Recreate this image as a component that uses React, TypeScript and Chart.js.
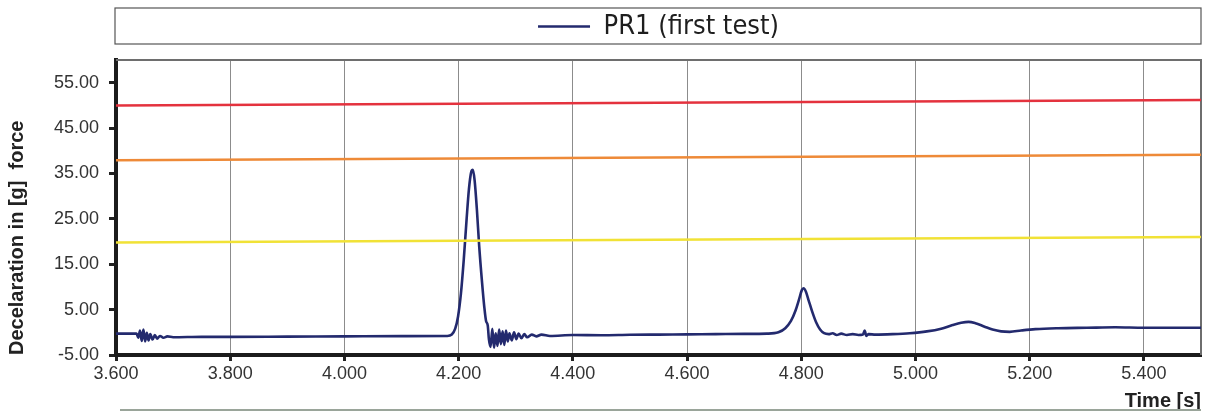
import React, { useEffect, useRef } from "react";
import { Chart, registerables } from "chart.js";

Chart.register(...registerables);

const seriesLabel = "PR1 (first test)";

const times = [
  3.600, 3.636, 3.639, 3.642, 3.645, 3.648, 3.651, 3.654, 3.657, 3.660, 3.664, 3.668, 3.672, 3.677, 3.683, 3.690,
  3.700, 3.750, 3.800, 3.900, 4.000, 4.100, 4.180, 4.188, 4.194, 4.199, 4.204, 4.209, 4.214, 4.218, 4.222, 4.225,
  4.228, 4.232, 4.236, 4.241, 4.245, 4.248, 4.251, 4.253, 4.256, 4.259, 4.262, 4.265, 4.268, 4.271, 4.274, 4.277,
  4.280, 4.283, 4.286, 4.289, 4.293, 4.297, 4.301, 4.305, 4.310, 4.315, 4.320, 4.328, 4.336, 4.345, 4.360, 4.400,
  4.450, 4.500, 4.550, 4.600, 4.650, 4.700, 4.740, 4.760, 4.772, 4.782, 4.790, 4.796, 4.801, 4.804, 4.808, 4.813,
  4.819, 4.826, 4.833, 4.840, 4.848, 4.855, 4.862, 4.870, 4.880, 4.890, 4.900, 4.908, 4.911, 4.914, 4.918, 4.930,
  4.960, 4.990, 5.020, 5.045, 5.065, 5.080, 5.093, 5.105, 5.120, 5.135, 5.150, 5.165, 5.185, 5.210, 5.250, 5.300,
  5.350, 5.400, 5.450, 5.500,
];

const decel = [
  -0.3, -0.3, -1.2, 0.4, -1.9, 0.6, -2.0, -0.1, -1.8, -0.4, -1.6, -0.6, -1.4, -0.8, -1.2, -0.9,
  -1.1, -1.0, -1.0, -0.95, -0.9, -0.85, -0.8, -0.5, 0.8, 3.5, 8.5, 16.0, 25.0, 31.5, 35.3, 35.8,
  33.5, 27.0, 19.0, 11.0, 5.5, 2.5, 1.5, -1.5, -3.2, 0.8, -3.4, -0.2, -3.0, 0.6, -2.6, 0.2,
  -2.8, 0.4, -2.0, -0.2, -1.8, 0.0, -1.5, -0.3, -1.3, -0.4, -1.1, -0.5, -0.9, -0.5, -0.8, -0.6,
  -0.65, -0.55, -0.5, -0.45, -0.4, -0.35, -0.3, 0.0, 0.9, 2.5, 4.8, 7.2, 9.3, 9.7, 9.0, 7.0,
  4.6, 2.2, 0.6, -0.2, -0.4, -0.2, -0.6, -0.3, -0.6, -0.4, -0.6, -0.5, 0.4, -0.8, -0.4, -0.5,
  -0.4, -0.2, 0.2, 0.8, 1.6, 2.1, 2.3, 2.0, 1.3, 0.6, 0.2, 0.1, 0.4, 0.7, 0.9, 1.0,
  1.1, 1.0, 1.0, 1.0,
];

const refTimes = [3.6, 5.5];
const redLimit = [50.0, 51.2];
const orangeLimit = [37.9, 39.1];
const yellowLimit = [19.8, 21.0];

const xTicks = [3.6, 3.8, 4.0, 4.2, 4.4, 4.6, 4.8, 5.0, 5.2, 5.4];
const yTicks = [-5, 5, 15, 25, 35, 45, 55];

const framePlugin = {
  id: "frame",
  beforeDatasetsDraw(chart: any) {
    const { ctx, chartArea: a } = chart;
    ctx.save();
    ctx.strokeStyle = "#6e6e6e";
    ctx.lineWidth = 2;
    ctx.beginPath();
    ctx.moveTo(a.left, a.top);
    ctx.lineTo(a.right, a.top);
    ctx.lineTo(a.right, a.bottom);
    ctx.stroke();
    ctx.restore();
  },
  afterDraw(chart: any) {
    const { ctx, chartArea: a, legend } = chart;
    ctx.save();
    ctx.strokeStyle = "#555";
    ctx.lineWidth = 1.2;
    const top = legend.top - 1;
    const h = legend.bottom - legend.top - 5;
    ctx.strokeRect(a.left - 1, top, a.right - a.left + 1, h);
    ctx.strokeStyle = "#9aa59a";
    ctx.lineWidth = 2;
    ctx.beginPath();
    ctx.moveTo(a.left + 4, chart.height - 3);
    ctx.lineTo(a.right, chart.height - 3);
    ctx.stroke();
    ctx.restore();
  },
};

export default function App() {
  const ref = useRef<HTMLCanvasElement | null>(null);
  useEffect(() => {
    document.body.style.margin = "0";
    document.body.style.background = "#ffffff";
    if (!ref.current) return;
    const mk = (xs: number[], ys: number[]) => xs.map((x, i) => ({ x, y: ys[i] }));
    const refLine = (label: string, ys: number[], color: string) => ({
      label,
      data: mk(refTimes, ys),
      xAxisID: "x",
      yAxisID: "y",
      borderColor: color,
      backgroundColor: color,
      borderWidth: 2.5,
      pointRadius: 0,
    });
    const chart = new Chart(ref.current, {
      type: "line",
      data: {
        datasets: [
          refLine("red", redLimit, "#e4323e"),
          refLine("orange", orangeLimit, "#ee8a38"),
          refLine("yellow", yellowLimit, "#f1e236"),
          {
            label: seriesLabel,
            data: mk(times, decel),
            xAxisID: "x",
            yAxisID: "y",
            borderColor: "#232a6e",
            backgroundColor: "#232a6e",
            borderWidth: 2.6,
            pointRadius: 0,
            cubicInterpolationMode: "monotone",
          },
        ],
      },
      plugins: [framePlugin],
      options: {
        animation: false,
        responsive: true,
        maintainAspectRatio: false,
        layout: { padding: { top: 9, right: 10, bottom: 0, left: 0 } },
        plugins: {
          tooltip: { enabled: false },
          legend: {
            position: "top",
            fullSize: false,
            labels: {
              filter: (item: any) => item.text === seriesLabel,
              usePointStyle: true,
              pointStyle: "line",
              pointStyleWidth: 52,
              padding: 4,
              color: "#1e1e1e",
              font: { family: "'DejaVu Sans Condensed', 'DejaVu Sans', sans-serif", size: 27 },
            },
          },
        },
        scales: {
          x: {
            type: "linear",
            min: 3.6,
            max: 5.5,
            afterBuildTicks: (s: any) => { s.ticks = xTicks.map((v) => ({ value: v })); },
            afterFit: (s: any) => { s.height = 58; },
            ticks: {
              autoSkip: false,
              maxRotation: 0,
              padding: 2,
              color: "#333",
              font: { family: "'Liberation Sans', Arial, sans-serif", size: 18 },
              callback: (v: any) => Number(v).toFixed(3),
            },
            grid: {
              color: "#8c8c8c",
              lineWidth: 1,
              tickLength: 6,
              tickColor: "#222",
              tickWidth: 3,
            },
            border: { display: true, color: "#1c1c1c", width: 4 },
            title: {
              display: true,
              text: "Time [s]",
              align: "end",
              color: "#222",
              padding: { top: 0, bottom: 0 },
              font: { family: "'Liberation Sans', Arial, sans-serif", size: 20, weight: "bold" },
            },
          },
          x2: {
            type: "linear",
            position: "top",
            display: true,
            ticks: { display: false },
            grid: { display: false, drawTicks: false },
            border: { display: false },
            afterFit: (s: any) => { s.height = 10; },
          },
          y: {
            type: "linear",
            min: -5,
            max: 60,
            afterBuildTicks: (s: any) => { s.ticks = yTicks.map((v) => ({ value: v })); },
            afterFit: (s: any) => { s.width = 116; },
            ticks: {
              autoSkip: false,
              padding: 10,
              color: "#333",
              font: { family: "'Liberation Sans', Arial, sans-serif", size: 18 },
              callback: (v: any) => Number(v).toFixed(2),
            },
            grid: {
              drawOnChartArea: false,
              tickLength: 7,
              tickColor: "#222",
              tickWidth: 3,
            },
            border: { display: true, color: "#1c1c1c", width: 4 },
            title: {
              display: true,
              text: "Decelaration in [g]  force",
              align: "start",
              color: "#222",
              padding: { top: 5, bottom: 0 },
              font: { family: "'Liberation Sans', Arial, sans-serif", size: 20, weight: "bold" },
            },
          },
        },
      } as any,
    });
    return () => chart.destroy();
  }, []);
  return (
    <div style={{ position: "relative", width: "1211px", height: "413px" }}>
      <canvas ref={ref} />
    </div>
  );
}
